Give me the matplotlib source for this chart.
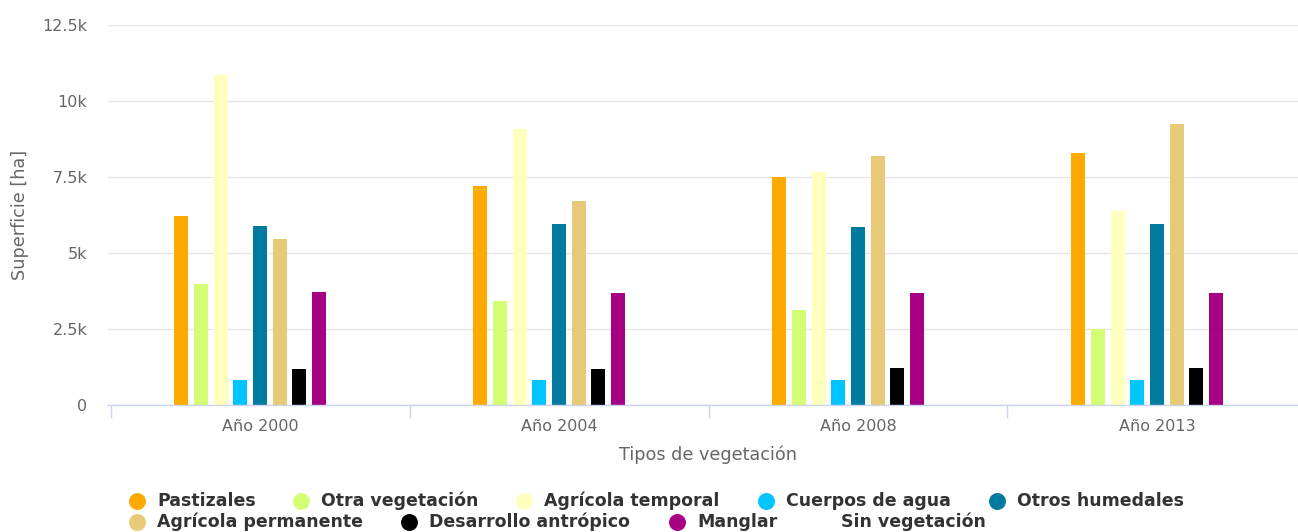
import matplotlib
matplotlib.use("Agg")
import matplotlib.pyplot as plt
import numpy as np

plt.rcParams['font.family'] = ['DejaVu Sans']

categories = ["Año 2000", "Año 2004", "Año 2008", "Año 2013"]
series_names = ["Pastizales", "Otra vegetación", "Agrícola temporal", "Cuerpos de agua",
                "Otros humedales", "Agrícola permanente", "Desarrollo antrópico", "Manglar",
                "Sin vegetación"]
pastizales = [6220, 7200, 7500, 8290]
otra_vegetacion = [3980, 3420, 3120, 2500]
agricola_temporal = [10860, 9080, 7660, 6380]
cuerpos_agua = [820, 820, 820, 820]
otros_humedales = [5890, 5950, 5860, 5950]
agricola_permanente = [5460, 6710, 8190, 9240]
desarrollo_antropico = [1180, 1180, 1220, 1220]
manglar = [3720, 3680, 3680, 3680]
sin_vegetacion = [0, 0, 0, 0]
values = [pastizales, otra_vegetacion, agricola_temporal, cuerpos_agua, otros_humedales,
          agricola_permanente, desarrollo_antropico, manglar, sin_vegetacion]
colors = ["#FFAA00", "#D4FF75", "#FFFFBE", "#00C5FF", "#007A9E", "#E6CA78", "#000000",
          "#A80084", "#FFFFFF"]
y_ticks = [0, 2500, 5000, 7500, 10000, 12500]
y_tick_labels = ["0", "2.5k", "5k", "7.5k", "10k", "12.5k"]

W, H = 1298, 532
fig = plt.figure(figsize=(W / 100, H / 100), dpi=100)
ax = fig.add_axes([108 / W, (H - 405) / H, 1199 / W, 380 / H])

slot = 0.066
bw = 0.0468
x = np.arange(len(categories))
for j, (vals, c) in enumerate(zip(values, colors)):
    ax.bar(x + (j - 4) * slot, vals, width=bw, color=c, zorder=3, linewidth=0)

ax.set_xlim(-0.5084, len(categories) - 0.4983)
ax.set_ylim(0, 12500)
ax.set_yticks(y_ticks)
ax.set_yticklabels(y_tick_labels)
ax.set_xticks(x)
ax.set_xticklabels(categories)
ax.set_xticks(np.arange(len(categories) + 1) - 0.5, minor=True)
ax.tick_params(axis='x', which='major', length=0, pad=10, labelsize=11.5, labelcolor="#666666")
ax.tick_params(axis='x', which='minor', length=9.5, width=1, color="#ccd6eb")
ax.tick_params(axis='y', length=0, pad=15, labelsize=11.5, labelcolor="#666666")
ax.grid(axis='y', color="#e6e6e6", linewidth=1, zorder=0)
for s in ['top', 'right', 'left']:
    ax.spines[s].set_visible(False)
ax.spines['bottom'].set_color("#ccd6eb")
ax.spines['bottom'].set_linewidth(1)
ax.spines['bottom'].set_zorder(4)

fig.text(20 / W, 1 - 215 / H, "Superficie [ha]", rotation=90, ha='center', va='center',
         fontsize=12.7, color="#666666")
fig.text(708 / W, 1 - 455 / H, "Tipos de vegetación", ha='center', va='center',
         fontsize=12.7, color="#666666")

# legend overlay in pixel coordinates
lax = fig.add_axes([0, 0, 1, 1], facecolor='none')
lax.set_xlim(0, W)
lax.set_ylim(H, 0)
lax.axis('off')
leg_pos = [(137, 501), (301, 501), (524, 501), (766, 501), (997, 501),
           (137, 522), (409, 522), (677, 522), (821, 522)]
for (px, py), name, c in zip(leg_pos, series_names, colors):
    lax.plot([px], [py], marker='o', markersize=12.2, color=c, markeredgewidth=0)
    lax.text(px + 20, py, name, ha='left', va='center', fontsize=12.5,
             fontweight='bold', color="#333333")

fig.savefig("out.png", dpi=100, facecolor="white")
